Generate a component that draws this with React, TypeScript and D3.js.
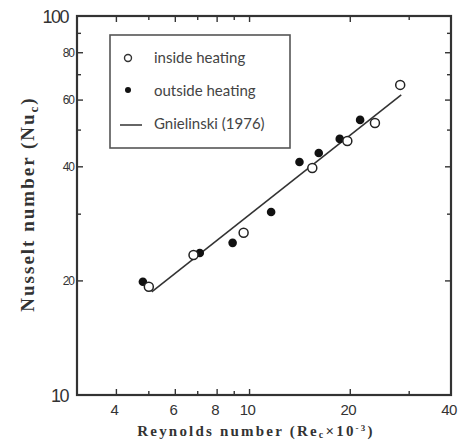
import React, { useEffect, useRef } from 'react'
import * as d3 from 'd3'

// Nusselt vs Reynolds
const insideRe = [5.0, 6.8, 9.6, 15.4, 19.6, 23.7, 28.2]
const insideNu = [19.3, 23.4, 26.8, 39.7, 46.8, 52.2, 65.8]

const outsideRe = [4.8, 7.1, 8.9, 11.6, 14.1, 16.1, 18.6, 21.4]
const outsideNu = [19.9, 23.7, 25.2, 30.4, 41.2, 43.5, 47.4, 53.2]

const gnielinskiRe = [5.1, 28.4]
const gnielinskiNu = [18.7, 61.9]

const xTickLabels = [4, 6, 8, 10, 20, 40]
const xMinorTicks = [4, 5, 6, 7, 8, 9, 10, 20, 30]
const yTickLabels = [20, 40, 60, 80]
const yMinorTicks = [20, 30, 40, 50, 60, 70, 80, 90]
const legendLabels = ['inside heating', 'outside heating', 'Gnielinski (1976)']

const W = 461
const H = 441

function App() {
  const ref = useRef<SVGSVGElement>(null)

  useEffect(() => {
    const svg = d3.select(ref.current)
    svg.selectAll('*').remove()

    const left = 77, right = 451, top = 16, bottom = 395
    const x = d3.scaleLog().domain([3.05, 40]).range([left, right])
    const y = d3.scaleLog().domain([10, 100]).range([bottom, top])
    const ink = '#333'

    const g = svg.append('g')

    // frame
    g.append('rect')
      .attr('x', left).attr('y', top)
      .attr('width', right - left).attr('height', bottom - top)
      .attr('fill', 'none').attr('stroke', ink).attr('stroke-width', 2.2)

    // ticks, all pointing inward
    xMinorTicks.forEach((v) => {
      const len = xTickLabels.includes(v) ? 6 : 4
      g.append('line').attr('x1', x(v)).attr('x2', x(v))
        .attr('y1', bottom).attr('y2', bottom - len)
        .attr('stroke', ink).attr('stroke-width', 1.4)
      g.append('line').attr('x1', x(v)).attr('x2', x(v))
        .attr('y1', top).attr('y2', top + len)
        .attr('stroke', ink).attr('stroke-width', 1.4)
    })
    yMinorTicks.forEach((v) => {
      const len = yTickLabels.includes(v) ? 6 : 4
      g.append('line').attr('x1', left).attr('x2', left + len)
        .attr('y1', y(v)).attr('y2', y(v))
        .attr('stroke', ink).attr('stroke-width', 1.4)
      g.append('line').attr('x1', right).attr('x2', right - len)
        .attr('y1', y(v)).attr('y2', y(v))
        .attr('stroke', ink).attr('stroke-width', 1.4)
    })

    // tick labels
    const sans = 'Liberation Sans, Arial, sans-serif'
    g.selectAll('.xlab').data(xTickLabels).enter().append('text')
      .attr('x', (d) => x(d) - 2).attr('y', 415)
      .attr('text-anchor', 'middle')
      .attr('font-family', sans).attr('font-size', 15)
      .attr('letter-spacing', -0.5)
      .attr('fill', '#333')
      .text((d) => d)

    g.selectAll('.ylab').data(yTickLabels).enter().append('text')
      .attr('x', left - 3).attr('y', (d) => y(d) + 4)
      .attr('text-anchor', 'end')
      .attr('font-family', sans).attr('font-size', 12)
      .attr('letter-spacing', -1)
      .attr('fill', '#333')
      .text((d) => d)

    g.selectAll('.ybig').data([10, 100]).enter().append('text')
      .attr('x', left - 9).attr('y', (d) => y(d) + 7)
      .attr('text-anchor', 'end')
      .attr('font-family', sans).attr('font-size', 18)
      .attr('letter-spacing', -1.5)
      .attr('fill', '#333')
      .text((d) => d)

    // axis titles
    const serif = 'Liberation Serif, Times New Roman, serif'
    const xt = g.append('text')
      .attr('x', 256).attr('y', 436)
      .attr('text-anchor', 'middle')
      .attr('font-family', serif).attr('font-size', 15)
      .attr('font-weight', 'bold').attr('fill', '#333')
      .attr('letter-spacing', 2.2)
    xt.append('tspan').text('Reynolds number (Re')
    xt.append('tspan').attr('font-size', 10).attr('dy', 2).text('c')
    xt.append('tspan').attr('dy', -2).text('×10')
    xt.append('tspan').attr('font-size', 9).attr('dy', -5).text('-3')
    xt.append('tspan').attr('dy', 5).text(')')

    const yt = g.append('text')
      .attr('transform', 'translate(34, 204) rotate(-90)')
      .attr('text-anchor', 'middle')
      .attr('font-family', serif).attr('font-size', 19)
      .attr('font-weight', 'bold').attr('fill', '#333')
      .attr('letter-spacing', 2)
    yt.append('tspan').text('Nusselt number (Nu')
    yt.append('tspan').attr('font-size', 13).attr('dy', 4).text('c')
    yt.append('tspan').attr('dy', -4).text(')')

    // correlation line
    const line = d3.line<number>()
      .x((d) => x(d))
      .y((_, i) => y(gnielinskiNu[i]))
    g.append('path')
      .datum(gnielinskiRe)
      .attr('d', line)
      .attr('fill', 'none').attr('stroke', ink).attr('stroke-width', 1.6)

    // outside heating (filled)
    g.selectAll('.outside').data(outsideRe).enter().append('circle')
      .attr('cx', (d) => x(d))
      .attr('cy', (_, i) => y(outsideNu[i]))
      .attr('r', 4.3)
      .attr('fill', '#111')

    // inside heating (open)
    g.selectAll('.inside').data(insideRe).enter().append('circle')
      .attr('cx', (d) => x(d))
      .attr('cy', (_, i) => y(insideNu[i]))
      .attr('r', 4.5)
      .attr('fill', 'white').attr('stroke', '#222').attr('stroke-width', 1.5)

    // legend
    const lg = g.append('g')
    lg.append('rect')
      .attr('x', 110).attr('y', 35).attr('width', 180).attr('height', 113)
      .attr('fill', 'white').attr('stroke', '#555').attr('stroke-width', 1.6)
    lg.append('circle').attr('cx', 128).attr('cy', 58).attr('r', 3.5)
      .attr('fill', 'white').attr('stroke', '#333').attr('stroke-width', 1.4)
    lg.append('circle').attr('cx', 128).attr('cy', 90).attr('r', 3)
      .attr('fill', '#111')
    lg.append('line').attr('x1', 120).attr('x2', 142)
      .attr('y1', 125).attr('y2', 125)
      .attr('stroke', ink).attr('stroke-width', 1.5)
    lg.selectAll('.lt').data(legendLabels).enter().append('text')
      .attr('x', 154).attr('y', (_, i) => 63 + i * 33)
      .attr('font-family', 'Lato, sans-serif').attr('font-size', 15)
      .attr('fill', '#444')
      .text((d) => d)
  }, [])

  return (
    <svg ref={ref} width={W} height={H}
      style={{ position: 'absolute', left: 0, top: 0, background: 'white' }} />
  )
}

export default App
